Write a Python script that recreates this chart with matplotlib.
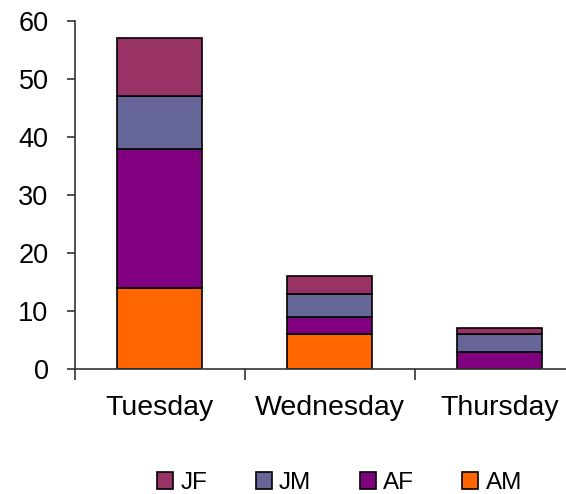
import numpy as np
import matplotlib.pyplot as plt

plt.rcParams['font.family'] = ['Liberation Sans', 'DejaVu Sans']

days = ["Tuesday", "Wednesday", "Thursday"]
am = [14, 6, 0]
af = [24, 3, 3]
jm = [9, 4, 3]
jf = [10, 3, 1]

series = [("AM", am, "#ff6600"), ("AF", af, "#800080"),
          ("JM", jm, "#666699"), ("JF", jf, "#993366")]

fig = plt.figure(figsize=(5.66, 4.94), dpi=100)
ax = fig.add_axes([0.1325, 0.253, 0.8675, 0.7045])

x = np.arange(len(days))
bottom = np.zeros(len(days))
handles = []
for name, vals, col in series:
    b = ax.bar(x, vals, width=0.5, bottom=bottom, color=col,
               edgecolor="black", linewidth=1.2, label=name)
    handles.append(b)
    bottom += np.array(vals)

ax.set_ylim(0, 60)
ax.set_xlim(-0.5, 2.39)
ax.set_yticks(range(0, 61, 10))
ax.tick_params(axis="y", labelsize=19.5, length=6, width=1.2, pad=13,
               colors="#333333", labelcolor="black")

# category labels in the middle, ticks on the boundaries
ax.set_xticks([-0.5, 0.5, 1.5])
ax.set_xticklabels([])
ax.tick_params(axis="x", length=8, width=1.2, colors="#333333")
ax.set_xticks(x, minor=True)
ax.set_xticklabels(days, minor=True, fontsize=20.5)
ax.tick_params(axis="x", which="minor", length=0, pad=19)

for s in ["top", "right"]:
    ax.spines[s].set_visible(False)
for s in ["left", "bottom"]:
    ax.spines[s].set_color("#333333")
    ax.spines[s].set_linewidth(1.2)

fig.legend(handles[::-1], [s[0] for s in series][::-1], ncol=4,
           loc="center", bbox_to_anchor=(0.6, 0.022), frameon=False,
           fontsize=17.5, handlelength=0.65, handleheight=0.65,
           handletextpad=0.3, columnspacing=2.0)

fig.savefig("out.png", dpi=100)
